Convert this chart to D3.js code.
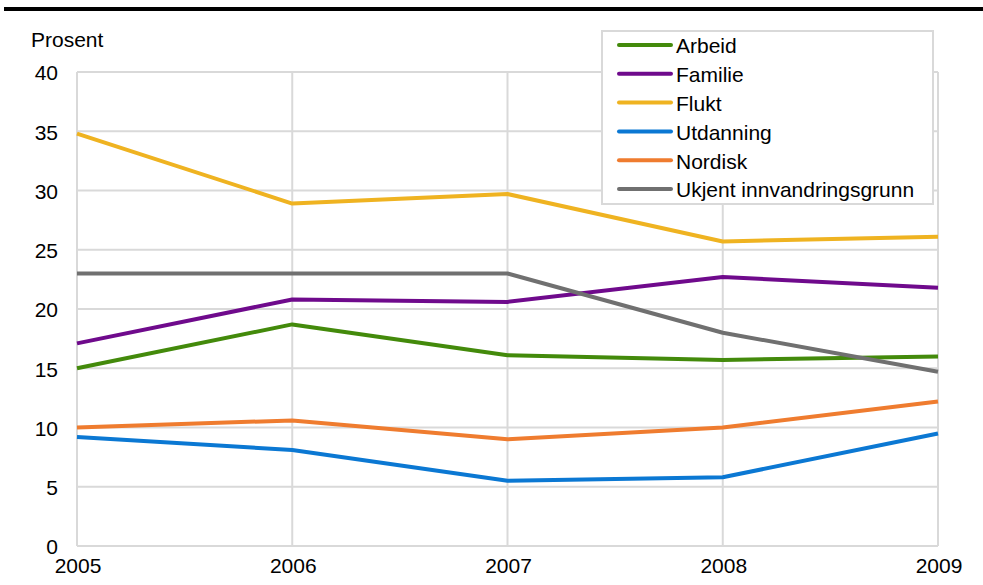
<!DOCTYPE html>
<html><head><meta charset="utf-8">
<script src="https://cdn.jsdelivr.net/npm/d3@7"></script>
<style>body{margin:0;background:#fff}svg{display:block;font-family:"Liberation Sans",Arial,sans-serif}</style>
</head><body>
<svg id="c" width="983" height="585"></svg>
<script>
const years = [2005, 2006, 2007, 2008, 2009];
const yTicks = [0, 5, 10, 15, 20, 25, 30, 35, 40];
const seriesNames = ["Arbeid", "Familie", "Flukt", "Utdanning", "Nordisk", "Ukjent innvandringsgrunn"];
const arbeid = [15.0, 18.7, 16.1, 15.7, 16.0];
const familie = [17.1, 20.8, 20.6, 22.7, 21.8];
const flukt = [34.8, 28.9, 29.7, 25.7, 26.1];
const utdanning = [9.2, 8.1, 5.5, 5.8, 9.5];
const nordisk = [10.0, 10.6, 9.0, 10.0, 12.2];
const ukjent = [23.0, 23.0, 23.0, 18.0, 14.7];
const colors = ["#438a0b", "#6f0a8c", "#efb321", "#0b78d3", "#ef7c2f", "#707070"];

const allValues = [arbeid, familie, flukt, utdanning, nordisk, ukjent];
const series = seriesNames.map((n, i) => ({name: n, values: allValues[i], color: colors[i]}));

const svg = d3.select("#c");
const x = d3.scaleLinear().domain([2005, 2009]).range([77, 938]);
const y = d3.scaleLinear().domain([0, 40]).range([546, 72]);
const FS = 21;

// top rule
svg.append("line").attr("x1", 4).attr("x2", 983).attr("y1", 9).attr("y2", 9)
  .attr("stroke", "#000").attr("stroke-width", 4);

// grid
const g = svg.append("g");
g.selectAll(".hg").data(yTicks).join("line")
  .attr("x1", x(2005)).attr("x2", x(2009))
  .attr("y1", d => y(d)).attr("y2", d => y(d))
  .attr("stroke", "#d9d9d9").attr("stroke-width", 2);
g.selectAll(".vg").data(years).join("line")
  .attr("x1", d => x(d)).attr("x2", d => x(d))
  .attr("y1", y(40)).attr("y2", y(0))
  .attr("stroke", "#d9d9d9").attr("stroke-width", 2);

// y labels
svg.append("g").selectAll("text").data(yTicks).join("text")
  .attr("x", 58).attr("y", d => y(d) + 1).attr("dy", "0.35em")
  .attr("text-anchor", "end").attr("font-size", FS).attr("fill", "#000")
  .text(d => d);

// x labels
svg.append("g").selectAll("text").data(years).join("text")
  .attr("x", d => x(d) + 1)
  .attr("y", 573)
  .attr("text-anchor", "middle")
  .attr("font-size", FS).attr("fill", "#000")
  .text(d => d);

svg.append("text").attr("x", 31).attr("y", 47).attr("font-size", FS).text("Prosent");

// lines
const line = d3.line().x((d, i) => x(years[i])).y(d => y(d));
svg.append("g").selectAll("path").data(series).join("path")
  .attr("d", d => line(d.values))
  .attr("fill", "none").attr("stroke", d => d.color)
  .attr("stroke-width", 4).attr("stroke-linejoin", "round");

// legend
const lg = svg.append("g");
lg.append("rect").attr("x", 602).attr("y", 31).attr("width", 331).attr("height", 173)
  .attr("fill", "#fff").attr("stroke", "#d9d9d9").attr("stroke-width", 2);
const items = lg.selectAll("g.it").data(series).join("g")
  .attr("transform", (d, i) => `translate(0,${45 + i * 28.8})`);
items.append("line").attr("x1", 619).attr("x2", 671).attr("y1", 0).attr("y2", 0)
  .attr("stroke", d => d.color).attr("stroke-width", 4).attr("stroke-linecap", "round");
items.append("text").attr("x", 676).attr("y", 1).attr("dy", "0.35em")
  .attr("font-size", FS).text(d => d.name);
</script>
</body></html>
